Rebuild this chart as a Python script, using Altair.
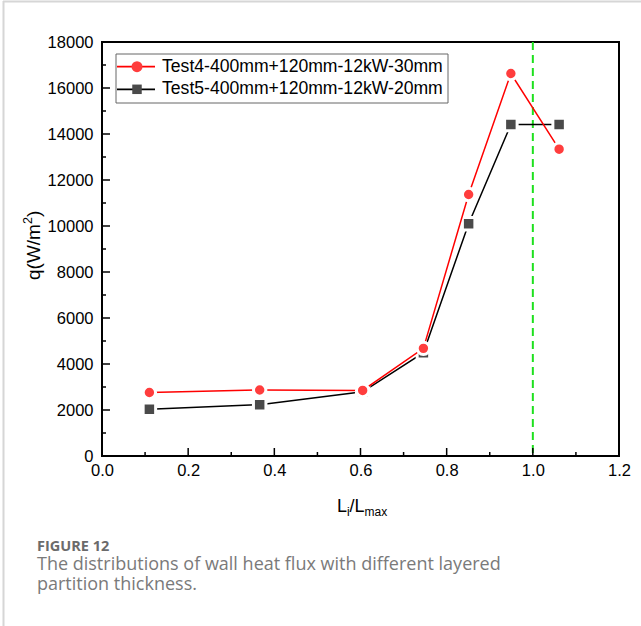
import altair as alt
import pandas as pd

# Relative position along the wall
x_pos = [0.11, 0.366, 0.605, 0.746, 0.851, 0.949, 1.061]
# Wall heat flux q (W/m^2)
q_test4 = [2760, 2870, 2850, 4680, 11370, 16630, 13340]
q_test5 = [2030, 2230, 2790, 4490, 10100, 14410, 14410]

series_names = ["Test4-400mm+120mm-12kW-30mm", "Test5-400mm+120mm-12kW-20mm"]

x_ticks = [0.0, 0.2, 0.4, 0.6, 0.8, 1.0, 1.2]
x_minor = [0.1, 0.3, 0.5, 0.7, 0.9, 1.1]
y_ticks = list(range(0, 18001, 2000))
y_minor = list(range(1000, 18000, 2000))
limit_x = [1.0]

W, H = 517, 414
FONT = "Liberation Sans"

xs = alt.Scale(domain=[0, 1.2], nice=False, zero=False)
ys = alt.Scale(domain=[0, 18000], nice=False, zero=False)

x_axis = alt.Axis(values=x_ticks, format=".1f", ticks=False, domain=False, grid=False,
                  labelFont=FONT, labelFontSize=16.5, labelColor="black",
                  labelPadding=6, labelFlush=False, title=None)
y_axis = alt.Axis(values=y_ticks, format="d", ticks=False, domain=False, grid=False,
                  labelFont=FONT, labelFontSize=16.5, labelColor="black",
                  labelPadding=9, labelFlush=False, title=None)


def X(field):
    return alt.X(field, scale=xs, axis=x_axis)


def Y(field):
    return alt.Y(field, scale=ys, axis=y_axis)


df4 = pd.DataFrame({"x": x_pos, "q": q_test4})
df5 = pd.DataFrame({"x": x_pos, "q": q_test5})


def line_layer(df, color):
    return alt.Chart(df).mark_line(color=color, strokeWidth=1.5).encode(
        x=X("x:Q"), y=Y("q:Q"))


def point_layer(df, shape, fill, size):
    return alt.Chart(df).mark_point(shape=shape, filled=True, fill=fill, opacity=1,
                                    stroke="white", strokeWidth=3, size=size).encode(
        x=X("x:Q"), y=Y("q:Q"))


# inward tick marks
def x_tick_layer(vals, length):
    return alt.Chart(pd.DataFrame({"x": vals})).mark_rule(color="black", strokeWidth=1.5).encode(
        x=X("x:Q"), y=alt.value(H), y2=alt.value(H - length))


def y_tick_layer(vals, length):
    return alt.Chart(pd.DataFrame({"q": vals})).mark_rule(color="black", strokeWidth=1.5).encode(
        y=Y("q:Q"), x=alt.value(0), x2=alt.value(length))


limit_line = alt.Chart(pd.DataFrame({"x": limit_x})).mark_rule(
    color="#1ee01e", strokeWidth=2, strokeDash=[8, 5]).encode(
    x=X("x:Q"), y=alt.value(0), y2=alt.value(H))


def text(s, x, y, size, color="black", font=FONT, align="left", angle=0,
         baseline="alphabetic", weight="normal"):
    return alt.Chart(pd.DataFrame({"s": [s]})).mark_text(
        text=s, font=font, fontSize=size, color=color, align=align, angle=angle,
        baseline=baseline, fontWeight=weight).encode(x=alt.value(x), y=alt.value(y))


def hrule(x1, x2, y, color, width):
    return alt.Chart(pd.DataFrame({"a": [0]})).mark_rule(color=color, strokeWidth=width).encode(
        x=alt.value(x1), x2=alt.value(x2), y=alt.value(y))


def vrule(x, y1, y2, color, width):
    return alt.Chart(pd.DataFrame({"a": [0]})).mark_rule(color=color, strokeWidth=width).encode(
        x=alt.value(x), y=alt.value(y1), y2=alt.value(y2))


# legend
lx0, lx1, ly0, ly1 = 14, 346, 12, 61
legend_box = alt.Chart(pd.DataFrame({"a": [0]})).mark_rect(
    fill="white", stroke="#666666", strokeWidth=1).encode(
    x=alt.value(lx0), x2=alt.value(lx1), y=alt.value(ly0), y2=alt.value(ly1))
leg_y = [24.7, 47.3]
legend_layers = [
    legend_box,
    hrule(15, 53, leg_y[0], "red", 1.8),
    alt.Chart(pd.DataFrame({"a": [0]})).mark_point(shape="circle", filled=True, fill="#ff3d3d",
                                                   opacity=1, size=120).encode(
        x=alt.value(35), y=alt.value(leg_y[0])),
    text(series_names[0], 60, leg_y[0], 17.6, baseline="middle"),
    hrule(15, 53, leg_y[1], "black", 1.8),
    alt.Chart(pd.DataFrame({"a": [0]})).mark_point(shape="square", filled=True, fill="#4a4a4a",
                                                   opacity=1, size=90).encode(
        x=alt.value(35), y=alt.value(leg_y[1])),
    text(series_names[1], 60, leg_y[1], 17.6, baseline="middle"),
]

# axis titles
x_title = [
    text("L", 235, 470, 18),
    text("i", 245, 474, 12),
    text("/L", 247.6, 470, 18),
    text("max", 262.5, 474, 12),
]
# rotated y title: q(W/m^2), reading bottom to top
yb = -62
y_title = [
    text("q(W/m", yb, 238, 19, angle=270),
    text("2", yb - 8, 238 - 56, 12.5, angle=270),
    text(")", yb, 238 - 63, 19, angle=270),
]

# caption below the figure
caption = [
    text("FIGURE 12", -65, 509, 14.5, color="#6b6b6b", font="Open Sans", weight="bold"),
    text("The distributions of wall heat flux with different layered", -65, 527.5, 18,
         color="#7a7a7a", font="Open Sans"),
    text("partition thickness.", -65, 547.5, 18, color="#7a7a7a", font="Open Sans"),
]

# page frame
frame = [
    hrule(-99, 539, -40.5, "#d6d6d6", 2),
    vrule(-98.5, -41, 584, "#d6d6d6", 2),
]

chart = alt.layer(
    *frame,
    limit_line,
    line_layer(df5, "black"),
    point_layer(df5, "square", "#4a4a4a", 156),
    line_layer(df4, "red"),
    point_layer(df4, "circle", "#ff3d3d", 154),
    x_tick_layer(x_ticks, 8),
    x_tick_layer(x_minor, 4),
    y_tick_layer(y_ticks, 8),
    y_tick_layer(y_minor, 4),
    *legend_layers,
    *x_title,
    *y_title,
    *caption,
).properties(
    width=W, height=H,
    padding={"left": 102, "top": 42, "right": 22, "bottom": 170},
    autosize=alt.AutoSizeParams(type="none"),
    background="white",
).configure_view(
    stroke="black", strokeWidth=2,
)

chart.save("out.html", embed_options={"renderer": "svg", "actions": False})
